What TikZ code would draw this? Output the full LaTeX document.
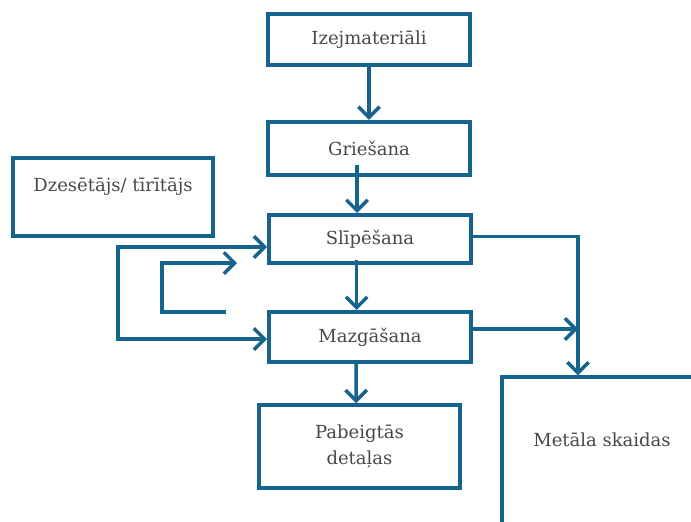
\documentclass[tikz,border=0pt]{standalone}
\usepackage{fontspec}
\setmainfont{DejaVu Serif}
\usetikzlibrary{arrows.meta,positioning,calc}
\definecolor{flowblue}{RGB}{22,100,142}
\definecolor{flowgray}{RGB}{72,72,72}
\tikzset{blk/.style={draw=flowblue, line width=3pt, rectangle, align=center, text=flowgray, inner sep=0pt, font=\fontsize{13.5}{19}\selectfont}}
\tikzset{barb/.tip={Straight Barb[length=8pt,width=16pt]}}
\tikzset{arr/.style={draw=flowblue, line width=2.6pt, -barb}}

\begin{document}
\begin{tikzpicture}[x=0.75pt, y=-0.75pt]
			\clip (0,0) rectangle (691,521);
			\node[blk, minimum width=151.5pt, minimum height=38pt] (izej) at (369,39.5) {Izejmateriāli};
			\node[blk, minimum width=151.5pt, minimum height=40pt] (gries) at (369,148.5) {Griešana};
			\node[blk, minimum width=151.5pt, minimum height=36pt] (slip) at (370,239) {Slīpēšana};
			\node[blk, minimum width=151.5pt, minimum height=37.5pt] (mazg) at (370,337) {Mazgāšana};
			\node[blk, minimum width=151pt, minimum height=62pt] (gatav) at (359.5,446.5) {Pabeigtās\\ detaļas};
			\node[blk, minimum width=150pt, minimum height=58.5pt] (dzes) at (113,197) {Dzesētājs/ tīrītājs\\ \mbox{}};
			\node[blk, minimum width=150pt, minimum height=112pt] (skaidas) at (602,452) {Metāla skaidas\\ \mbox{}};
			
			\coordinate (drop) at ($(skaidas.north)+(-24,0)$);
			\coordinate (ret) at ($(mazg.west)+(-41,-25)$);
			
			\begin{scope}[arr]
				\draw (izej.south) -- (gries.north);
				\draw ($(slip.north |- gries.south)+(-13,-12)$) -- ($(slip.north)+(-13,0)$);
				\draw ([xshift=-10pt,yshift=4pt]slip.south) -- ([xshift=-10pt]mazg.north);
				\draw ([xshift=-10.5pt,yshift=1.5pt]mazg.south) -- ([xshift=-2.5pt]gatav.north);
				\draw ([yshift=2pt]slip.east) -| (drop);
				\draw ([yshift=6pt]mazg.east) -- ([yshift=6pt]mazg.east -| drop);
				\draw[barb-barb] ([yshift=-6pt]slip.west) -- ++(-149,0) |- ([yshift=-1.5pt]mazg.west);
				\draw (ret) -- ++(-64,0) |- ($(slip.west)+(-30,24)$);
			\end{scope}
		\end{tikzpicture}
\end{document}
